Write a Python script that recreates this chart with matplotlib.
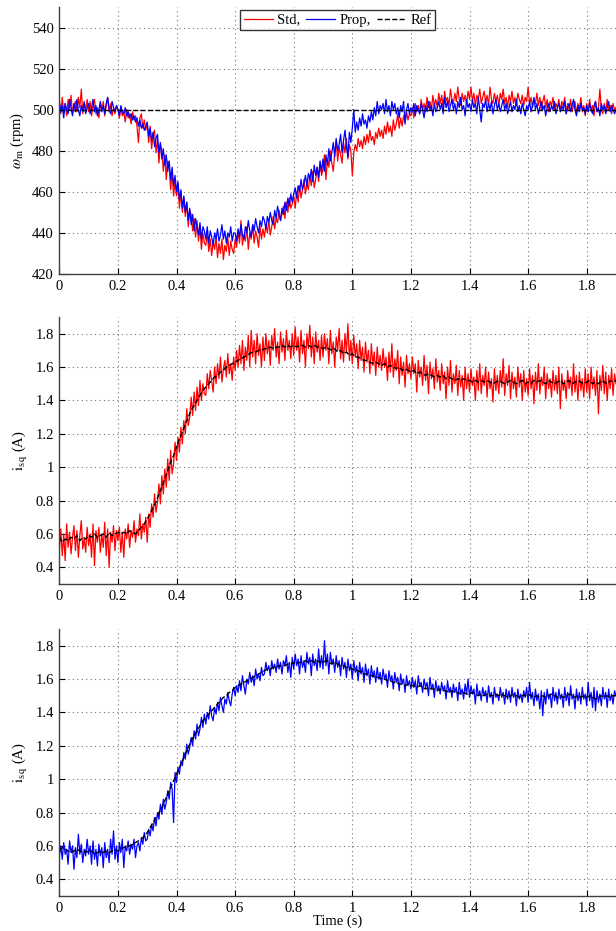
import numpy as np
import matplotlib
matplotlib.use("Agg")
import matplotlib.pyplot as plt

plt.rcParams['font.family'] = ['Liberation Serif', 'DejaVu Serif']
plt.rcParams['mathtext.fontset'] = 'stix'
plt.rcParams['font.size'] = 10.5

# sample times (s): measured signals every 5 ms, references every 10 ms
t = np.round(np.arange(381) * 0.005, 3)
t_ref = np.round(np.arange(191) * 0.01, 2)

# rotor speed (rpm), 5 ms samples, one row per 0.1 s
speed_std = [
    504, 498, 506, 499, 503, 497, 505, 500, 507, 498, 502, 504, 499, 506, 501, 510, 498, 503, 500, 505,
    499, 504, 497, 502, 505, 498, 501, 496, 503, 500, 504, 497, 502, 506, 499, 503, 497, 501, 498, 502,
    500, 496, 501, 497, 499, 494, 500, 496, 498, 493, 499, 495, 497, 492, 484, 496, 498, 491, 495, 490,
    493, 484, 492, 481, 488, 490, 479, 486, 474, 483, 480, 470, 478, 466, 475, 472, 461, 470, 458, 465,
    458, 464, 452, 460, 450, 457, 448, 455, 443, 451, 449, 441, 447, 438, 446, 436, 443, 432, 440, 435,
    434, 440, 431, 437, 429, 436, 432, 438, 428, 435, 430, 437, 427, 434, 431, 438, 429, 436, 432, 430,
    437, 433, 441, 435, 446, 434, 439, 436, 443, 432, 440, 437, 444, 435, 441, 438, 433, 443, 437, 442,
    438, 444, 440, 446, 439, 443, 448, 442, 447, 445, 451, 446, 449, 453, 447, 455, 450, 457, 452, 454,
    458, 452, 460, 455, 463, 457, 461, 466, 459, 464, 461, 468, 463, 470, 462, 466, 472, 465, 474, 468,
    471, 478, 466, 476, 472, 480, 474, 470, 479, 485, 475, 482, 478, 474, 484, 479, 486, 476, 483, 480,
    468, 479, 483, 480, 486, 482, 485, 481, 487, 483, 488, 484, 490, 485, 487, 483, 489, 486, 491, 487,
    490, 486, 492, 488, 494, 489, 492, 487, 495, 490, 493, 498, 491, 496, 492, 497, 494, 499, 495, 498,
    497, 501, 496, 503, 499, 502, 498, 505, 500, 503, 499, 506, 501, 504, 500, 507, 502, 505, 501, 508,
    503, 507, 501, 509, 504, 506, 502, 510, 505, 503, 508, 504, 511, 505, 502, 508, 504, 507, 503, 509,
    505, 511, 504, 508, 502, 507, 505, 510, 503, 506, 509, 504, 507, 502, 511, 505, 503, 508, 504, 507,
    502, 508, 505, 510, 503, 506, 501, 507, 504, 509, 503, 506, 502, 508, 505, 503, 507, 502, 506, 504,
    511, 503, 506, 501, 505, 503, 508, 502, 506, 500, 504, 507, 501, 505, 499, 504, 502, 506, 500, 503,
    501, 505, 499, 504, 502, 506, 498, 503, 500, 505, 499, 502, 504, 498, 503, 500, 506, 499, 502, 497,
    503, 499, 505, 500, 502, 497, 504, 499, 501, 510, 500, 498, 503, 499, 505, 500, 502, 498, 503, 500,
    501]
speed_prop = [
    504, 499, 502, 496, 503, 500, 498, 505, 501, 497, 503, 499, 505, 500, 497, 502, 499, 504, 498, 501,
    503, 498, 501, 505, 499, 502, 497, 500, 504, 499, 502, 498, 503, 506, 500, 498, 504, 501, 499, 502,
    500, 497, 502, 499, 498, 501, 497, 499, 496, 498, 495, 497, 494, 496, 492, 495, 491, 493, 490, 492,
    494, 487, 491, 485, 489, 482, 486, 488, 479, 484, 476, 481, 473, 478, 470, 475, 466, 472, 463, 468,
    460, 465, 456, 461, 452, 458, 450, 455, 446, 452, 444, 449, 441, 447, 443, 439, 445, 437, 443, 441,
    437, 443, 435, 441, 438, 434, 440, 437, 442, 436, 439, 444, 437, 441, 435, 440, 438, 443, 436, 440,
    440, 436, 442, 438, 444, 439, 437, 443, 440, 446, 441, 438, 444, 441, 447, 443, 440, 446, 443, 448,
    446, 442, 448, 445, 450, 446, 444, 451, 447, 453, 449, 446, 452, 449, 455, 451, 457, 453, 459, 455,
    459, 462, 457, 463, 460, 466, 461, 464, 468, 463, 469, 466, 471, 465, 473, 468, 472, 467, 475, 470,
    476, 470, 478, 473, 481, 475, 479, 484, 477, 486, 480, 483, 488, 479, 485, 490, 482, 477, 489, 484,
    491, 500, 489, 494, 490, 496, 492, 498, 493, 495, 491, 497, 494, 499, 495, 501, 497, 504, 498, 502,
    500, 503, 498, 505, 499, 502, 497, 504, 500, 503, 498, 501, 496, 502, 499, 504, 493, 500, 503, 498,
    501, 499, 503, 497, 502, 500, 498, 503, 500, 496, 502, 499, 504, 500, 502, 497, 503, 499, 501, 504,
    500, 503, 498, 506, 501, 504, 499, 502, 505, 500, 503, 498, 504, 501, 506, 500, 502, 497, 505, 501,
    503, 499, 505, 501, 503, 498, 506, 500, 494, 503, 501, 505, 499, 503, 500, 504, 498, 502, 505, 500,
    503, 499, 502, 505, 500, 503, 498, 501, 504, 499, 502, 500, 505, 499, 502, 498, 503, 500, 497, 502,
    500, 504, 499, 502, 506, 500, 503, 498, 501, 504, 500, 502, 497, 501, 503, 499, 502, 500, 504, 498,
    501, 503, 499, 502, 500, 504, 498, 501, 503, 499, 502, 505, 500, 497, 502, 499, 503, 500, 501, 498,
    502, 499, 503, 500, 498, 502, 504, 499, 501, 497, 503, 500, 502, 498, 501, 504, 499, 502, 500, 498,
    500]
speed_ref = [500] * 191

# q-axis current (A), standard controller, 5 ms samples
isq_std = [
    0.50, 0.63, 0.47, 0.60, 0.44, 0.66, 0.52, 0.61, 0.48, 0.58, 0.65, 0.50, 0.62, 0.46, 0.59, 0.68, 0.51, 0.57, 0.49, 0.64,
    0.53, 0.60, 0.46, 0.66, 0.41, 0.62, 0.55, 0.64, 0.49, 0.60, 0.52, 0.67, 0.47, 0.63, 0.40, 0.61, 0.55, 0.65, 0.50, 0.62,
    0.56, 0.64, 0.49, 0.61, 0.46, 0.63, 0.57, 0.66, 0.52, 0.62, 0.58, 0.68, 0.55, 0.63, 0.59, 0.72, 0.57, 0.66, 0.61, 0.70,
    0.55, 0.72, 0.64, 0.78, 0.70, 0.84, 0.73, 0.79, 0.90, 0.78, 0.95, 0.84, 0.99, 0.88, 1.05, 0.92, 1.10, 0.96, 1.02, 1.15,
    1.04, 1.18, 1.09, 1.24, 1.14, 1.28, 1.20, 1.35, 1.25, 1.30, 1.42, 1.31, 1.45, 1.34, 1.48, 1.37, 1.52, 1.40, 1.50, 1.44,
    1.43, 1.56, 1.47, 1.58, 1.52, 1.45, 1.60, 1.50, 1.62, 1.53, 1.66, 1.51, 1.59, 1.64, 1.54, 1.68, 1.56, 1.62, 1.52, 1.66,
    1.58, 1.70, 1.60, 1.73, 1.62, 1.76, 1.58, 1.72, 1.64, 1.79, 1.60, 1.82, 1.66, 1.76, 1.62, 1.80, 1.67, 1.74, 1.60, 1.78,
    1.64, 1.80, 1.68, 1.76, 1.61, 1.79, 1.70, 1.83, 1.66, 1.75, 1.62, 1.81, 1.69, 1.77, 1.64, 1.82, 1.70, 1.76, 1.65, 1.80,
    1.67, 1.84, 1.70, 1.78, 1.63, 1.82, 1.68, 1.76, 1.60, 1.80, 1.71, 1.85, 1.66, 1.78, 1.62, 1.81, 1.69, 1.76, 1.64, 1.79,
    1.66, 1.80, 1.70, 1.77, 1.62, 1.82, 1.68, 1.75, 1.60, 1.78, 1.70, 1.83, 1.65, 1.76, 1.63, 1.80, 1.69, 1.86, 1.64, 1.76,
    1.62, 1.79, 1.66, 1.74, 1.59, 1.76, 1.64, 1.72, 1.57, 1.75, 1.63, 1.70, 1.56, 1.74, 1.61, 1.69, 1.55, 1.72, 1.60, 1.67,
    1.58, 1.71, 1.60, 1.66, 1.52, 1.69, 1.57, 1.74, 1.54, 1.65, 1.58, 1.70, 1.50, 1.66, 1.55, 1.63, 1.48, 1.67, 1.56, 1.62,
    1.53, 1.66, 1.56, 1.62, 1.45, 1.64, 1.54, 1.60, 1.49, 1.67, 1.52, 1.61, 1.44, 1.63, 1.53, 1.59, 1.47, 1.65, 1.51, 1.58,
    1.46, 1.62, 1.50, 1.57, 1.41, 1.60, 1.49, 1.64, 1.45, 1.56, 1.50, 1.61, 1.43, 1.58, 1.48, 1.55, 1.40, 1.60, 1.47, 1.56,
    1.45, 1.59, 1.49, 1.54, 1.40, 1.58, 1.46, 1.62, 1.44, 1.55, 1.49, 1.60, 1.42, 1.57, 1.47, 1.53, 1.39, 1.59, 1.46, 1.55,
    1.44, 1.58, 1.48, 1.65, 1.43, 1.56, 1.49, 1.61, 1.41, 1.57, 1.47, 1.54, 1.42, 1.60, 1.48, 1.56, 1.40, 1.58, 1.45, 1.53,
    1.43, 1.59, 1.47, 1.55, 1.38, 1.57, 1.46, 1.62, 1.44, 1.54, 1.49, 1.60, 1.41, 1.56, 1.47, 1.53, 1.42, 1.58, 1.46, 1.55,
    1.44, 1.60, 1.35, 1.56, 1.46, 1.52, 1.41, 1.58, 1.47, 1.54, 1.43, 1.62, 1.45, 1.55, 1.40, 1.57, 1.46, 1.53, 1.42, 1.59,
    1.45, 1.56, 1.41, 1.60, 1.47, 1.54, 1.43, 1.58, 1.32, 1.55, 1.46, 1.61, 1.44, 1.57, 1.40, 1.55, 1.47, 1.59, 1.43, 1.56,
    1.50]
# reference current for the standard run, 10 ms samples
isq_ref_std = [
    0.58, 0.55, 0.57, 0.56, 0.58, 0.57, 0.59, 0.56, 0.58, 0.57,
    0.59, 0.58, 0.60, 0.58, 0.59, 0.60, 0.58, 0.61, 0.59, 0.60,
    0.61, 0.60, 0.61, 0.60, 0.62, 0.61, 0.60, 0.62, 0.64, 0.66,
    0.69, 0.72, 0.76, 0.79, 0.84, 0.88, 0.93, 0.98, 1.03, 1.07,
    1.12, 1.17, 1.21, 1.26, 1.30, 1.34, 1.37, 1.40, 1.43, 1.46,
    1.48, 1.50, 1.52, 1.54, 1.55, 1.57, 1.58, 1.60, 1.61, 1.62,
    1.63, 1.64, 1.65, 1.66, 1.67, 1.68, 1.69, 1.69, 1.70, 1.70,
    1.71, 1.71, 1.72, 1.71, 1.72, 1.72, 1.73, 1.72, 1.73, 1.72,
    1.73, 1.72, 1.73, 1.73, 1.72, 1.73, 1.72, 1.73, 1.72, 1.72,
    1.71, 1.72, 1.71, 1.70, 1.71, 1.69, 1.70, 1.68, 1.69, 1.67,
    1.68, 1.66, 1.66, 1.65, 1.64, 1.64, 1.63, 1.62, 1.63, 1.62,
    1.61, 1.62, 1.60, 1.61, 1.60, 1.59, 1.60, 1.58, 1.59, 1.58,
    1.57, 1.58, 1.56, 1.57, 1.56, 1.55, 1.56, 1.55, 1.54, 1.55,
    1.54, 1.55, 1.53, 1.54, 1.53, 1.52, 1.53, 1.52, 1.53, 1.52,
    1.52, 1.51, 1.52, 1.51, 1.52, 1.51, 1.52, 1.51, 1.50, 1.51,
    1.52, 1.51, 1.50, 1.51, 1.52, 1.51, 1.50, 1.51, 1.52, 1.50,
    1.51, 1.50, 1.52, 1.51, 1.52, 1.51, 1.50, 1.52, 1.51, 1.50,
    1.51, 1.52, 1.50, 1.51, 1.52, 1.50, 1.51, 1.52, 1.51, 1.50,
    1.51, 1.52, 1.50, 1.51, 1.50, 1.52, 1.51, 1.50, 1.52, 1.51,
    1.52]

# q-axis current (A), proposed controller, 5 ms samples
isq_prop = [
    0.54, 0.60, 0.52, 0.62, 0.55, 0.58, 0.49, 0.63, 0.56, 0.60, 0.46, 0.59, 0.53, 0.67, 0.55, 0.61, 0.50, 0.58, 0.54, 0.64,
    0.55, 0.60, 0.49, 0.63, 0.52, 0.58, 0.48, 0.61, 0.54, 0.59, 0.47, 0.62, 0.53, 0.58, 0.50, 0.64, 0.55, 0.69, 0.52, 0.60,
    0.50, 0.62, 0.56, 0.64, 0.47, 0.60, 0.57, 0.63, 0.55, 0.61, 0.58, 0.64, 0.53, 0.60, 0.62, 0.57, 0.65, 0.61, 0.68, 0.63,
    0.64, 0.70, 0.66, 0.73, 0.69, 0.77, 0.72, 0.80, 0.76, 0.85, 0.79, 0.88, 0.82, 0.86, 0.93, 0.88, 0.98, 0.94, 0.74, 1.04,
    0.98, 1.07, 1.03, 1.11, 1.08, 1.16, 1.12, 1.21, 1.15, 1.19, 1.25, 1.20, 1.29, 1.24, 1.33, 1.26, 1.30, 1.37, 1.31, 1.39,
    1.33, 1.40, 1.36, 1.44, 1.38, 1.35, 1.43, 1.39, 1.46, 1.41, 1.49, 1.44, 1.40, 1.48, 1.45, 1.52, 1.47, 1.44, 1.51, 1.55,
    1.50, 1.56, 1.52, 1.59, 1.53, 1.62, 1.56, 1.51, 1.60, 1.57, 1.64, 1.58, 1.62, 1.56, 1.66, 1.60, 1.63, 1.59, 1.67, 1.62,
    1.63, 1.70, 1.65, 1.68, 1.62, 1.71, 1.66, 1.69, 1.64, 1.72, 1.66, 1.70, 1.63, 1.71, 1.68, 1.74, 1.64, 1.70, 1.61, 1.73,
    1.66, 1.75, 1.68, 1.72, 1.63, 1.74, 1.67, 1.71, 1.64, 1.76, 1.69, 1.73, 1.62, 1.75, 1.68, 1.72, 1.65, 1.78, 1.67, 1.74,
    1.66, 1.83, 1.68, 1.75, 1.63, 1.76, 1.69, 1.72, 1.64, 1.74, 1.67, 1.71, 1.62, 1.73, 1.66, 1.70, 1.61, 1.72, 1.65, 1.69,
    1.60, 1.71, 1.64, 1.68, 1.59, 1.70, 1.63, 1.67, 1.58, 1.69, 1.62, 1.66, 1.57, 1.68, 1.61, 1.65, 1.58, 1.67, 1.60, 1.64,
    1.57, 1.66, 1.60, 1.63, 1.55, 1.65, 1.59, 1.62, 1.54, 1.64, 1.58, 1.61, 1.53, 1.63, 1.57, 1.60, 1.52, 1.62, 1.56, 1.59,
    1.54, 1.61, 1.55, 1.59, 1.51, 1.62, 1.56, 1.58, 1.52, 1.60, 1.55, 1.58, 1.50, 1.61, 1.54, 1.57, 1.49, 1.59, 1.53, 1.56,
    1.51, 1.58, 1.53, 1.56, 1.48, 1.59, 1.52, 1.55, 1.49, 1.57, 1.52, 1.55, 1.47, 1.58, 1.51, 1.54, 1.48, 1.57, 1.51, 1.60,
    1.49, 1.56, 1.51, 1.54, 1.45, 1.57, 1.50, 1.53, 1.47, 1.55, 1.50, 1.53, 1.46, 1.56, 1.49, 1.52, 1.45, 1.55, 1.49, 1.51,
    1.47, 1.55, 1.49, 1.52, 1.45, 1.54, 1.48, 1.53, 1.46, 1.55, 1.49, 1.52, 1.44, 1.54, 1.48, 1.51, 1.46, 1.53, 1.49, 1.55,
    1.46, 1.58, 1.48, 1.52, 1.44, 1.54, 1.47, 1.51, 1.42, 1.53, 1.38, 1.52, 1.45, 1.54, 1.48, 1.51, 1.43, 1.55, 1.47, 1.52,
    1.45, 1.54, 1.48, 1.51, 1.43, 1.55, 1.47, 1.52, 1.44, 1.56, 1.48, 1.51, 1.42, 1.54, 1.47, 1.52, 1.45, 1.55, 1.48, 1.51,
    1.44, 1.58, 1.47, 1.52, 1.43, 1.55, 1.41, 1.53, 1.46, 1.51, 1.44, 1.55, 1.48, 1.52, 1.43, 1.54, 1.47, 1.51, 1.45, 1.53,
    1.50]
# reference current for the proposed run, 10 ms samples
isq_ref_prop = [
    0.57, 0.59, 0.58, 0.57, 0.56, 0.57, 0.58, 0.57, 0.56, 0.57,
    0.56, 0.57, 0.55, 0.56, 0.57, 0.56, 0.57, 0.56, 0.57, 0.58,
    0.57, 0.58, 0.59, 0.60, 0.60, 0.61, 0.62, 0.63, 0.64, 0.66,
    0.68, 0.71, 0.74, 0.77, 0.80, 0.83, 0.87, 0.91, 0.95, 0.99,
    1.03, 1.07, 1.11, 1.15, 1.19, 1.23, 1.26, 1.29, 1.32, 1.35,
    1.37, 1.39, 1.41, 1.43, 1.45, 1.47, 1.49, 1.50, 1.52, 1.53,
    1.55, 1.56, 1.57, 1.58, 1.59, 1.60, 1.61, 1.62, 1.63, 1.64,
    1.65, 1.66, 1.66, 1.67, 1.67, 1.68, 1.68, 1.68, 1.69, 1.69,
    1.70, 1.69, 1.70, 1.70, 1.71, 1.70, 1.71, 1.70, 1.71, 1.70,
    1.70, 1.71, 1.70, 1.69, 1.70, 1.69, 1.68, 1.68, 1.67, 1.67,
    1.66, 1.65, 1.65, 1.64, 1.63, 1.63, 1.62, 1.62, 1.61, 1.61,
    1.60, 1.60, 1.59, 1.59, 1.58, 1.58, 1.57, 1.57, 1.56, 1.57,
    1.56, 1.56, 1.55, 1.56, 1.55, 1.54, 1.55, 1.54, 1.54, 1.53,
    1.54, 1.53, 1.53, 1.52, 1.53, 1.52, 1.52, 1.51, 1.52, 1.51,
    1.51, 1.52, 1.51, 1.50, 1.51, 1.50, 1.51, 1.50, 1.50, 1.51,
    1.50, 1.51, 1.50, 1.49, 1.50, 1.51, 1.50, 1.49, 1.50, 1.50,
    1.51, 1.50, 1.49, 1.50, 1.49, 1.50, 1.49, 1.50, 1.51, 1.50,
    1.49, 1.50, 1.49, 1.50, 1.51, 1.50, 1.49, 1.50, 1.49, 1.50,
    1.49, 1.50, 1.49, 1.48, 1.49, 1.50, 1.49, 1.50, 1.49, 1.50,
    1.50]

x_ticks = [0, 0.2, 0.4, 0.6, 0.8, 1, 1.2, 1.4, 1.6, 1.8]
x_labels = ['0', '0.2', '0.4', '0.6', '0.8', '1', '1.2', '1.4', '1.6', '1.8']
speed_ticks = [420, 440, 460, 480, 500, 520, 540]
isq_ticks = [0.4, 0.6, 0.8, 1.0, 1.2, 1.4, 1.6, 1.8]
isq_labels = ['0.4', '0.6', '0.8', '1', '1.2', '1.4', '1.6', '1.8']

fig = plt.figure(figsize=(6.16, 9.31), dpi=100)
ax1 = fig.add_axes([0.0963, 0.7057, 0.9037, 0.2868])
ax2 = fig.add_axes([0.0963, 0.3727, 0.9037, 0.2868])
ax3 = fig.add_axes([0.0963, 0.0376, 0.9037, 0.2868])


def style(ax):
    ax.set_xlim(0, 1.9)
    ax.set_xticks(x_ticks)
    ax.set_xticklabels(x_labels)
    ax.grid(True, color='0.45', linestyle=(0, (1, 3)), linewidth=0.8)
    ax.tick_params(direction='in', length=4, width=0.8, pad=4)
    ax.spines['top'].set_visible(False)
    ax.spines['right'].set_visible(False)
    for s in ['left', 'bottom']:
        ax.spines[s].set_color('0.25')
        ax.spines[s].set_linewidth(1.0)


# speed
ax1.plot(t, speed_std, color='#ff0000', lw=0.9, label='Std,')
ax1.plot(t, speed_prop, color='#0000ff', lw=0.9, label='Prop,')
ax1.plot(t_ref, speed_ref, color='black', lw=1.0, ls='--', label='Ref')
ax1.set_ylim(420, 550)
ax1.set_yticks(speed_ticks)
ax1.set_ylabel(r'$\omega_{\rm m}$ (rpm)', labelpad=4)
style(ax1)
leg = ax1.legend(loc='upper center', bbox_to_anchor=(0.5, 0.995), ncol=3,
                 frameon=True, fancybox=False, edgecolor='black',
                 handlelength=2.0, handletextpad=0.3, columnspacing=0.4,
                 borderpad=0.25, borderaxespad=0.1, fontsize=10.5)
leg.get_frame().set_linewidth(1.0)

# current, standard
ax2.plot(t, isq_std, color='#ff0000', lw=0.9)
ax2.plot(t_ref, isq_ref_std, color='black', lw=1.0, ls='--')
ax2.set_ylim(0.3, 1.9)
ax2.set_yticks(isq_ticks)
ax2.set_yticklabels(isq_labels)
ax2.set_ylabel(r'$\mathrm{i}_{\mathrm{s\,q}}$ (A)', labelpad=4)
style(ax2)

# current, proposed
ax3.plot(t, isq_prop, color='#0000ff', lw=0.9)
ax3.plot(t_ref, isq_ref_prop, color='black', lw=1.0, ls='--')
ax3.set_ylim(0.3, 1.9)
ax3.set_yticks(isq_ticks)
ax3.set_yticklabels(isq_labels)
ax3.set_ylabel(r'$\mathrm{i}_{\mathrm{s\,q}}$ (A)', labelpad=4)
ax3.set_xlabel('Time (s)', labelpad=0)
style(ax3)

fig.savefig('out.png', dpi=100)
